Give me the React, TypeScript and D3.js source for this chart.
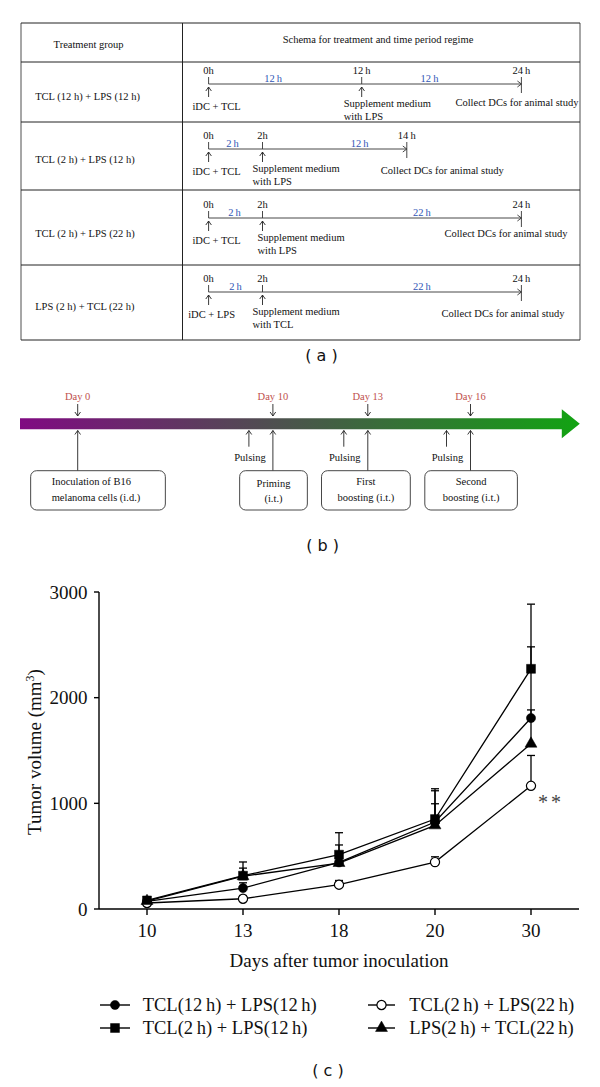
import React from "react";
import * as d3 from "d3";

// ---------- Panel (a) data ----------
const groupLabels = [
  "TCL (12 h) + LPS (12 h)",
  "TCL (2 h) + LPS (12 h)",
  "TCL (2 h) + LPS (22 h)",
  "LPS (2 h) + TCL (22 h)",
];
const rowTimes = [
  [0, 12, 24],
  [0, 2, 14],
  [0, 2, 24],
  [0, 2, 24],
];
const rowStartLabels = ["iDC + TCL", "iDC + TCL", "iDC + TCL", "iDC + LPS"];
const rowSupplementLabels = ["with LPS", "with LPS", "with LPS", "with TCL"];
const supplementLabel = "Supplement medium";
const collectLabel = "Collect DCs for animal study";
const headerLabels = ["Treatment group", "Schema for treatment and time period regime"];

// ---------- Panel (b) data ----------
const timelineDays = [0, 10, 13, 16];
const pulsingLabel = "Pulsing";
const boxLines = [
  ["Inoculation of B16", "melanoma cells (i.d.)"],
  ["Priming", "(i.t.)"],
  ["First", "boosting (i.t.)"],
  ["Second", "boosting (i.t.)"],
];

// ---------- Panel (c) data ----------
const days = ["10", "13", "18", "20", "30"];
const yTicks = [0, 1000, 2000, 3000];
const tcl12lps12 = [72, 198, 441, 823, 1807];
const tcl12lps12Err = [20, 50, 165, 296, 674];
const tcl2lps12 = [81, 315, 514, 851, 2273];
const tcl2lps12Err = [25, 130, 208, 287, 612];
const tcl2lps22 = [57, 97, 230, 444, 1166];
const tcl2lps22Err = [15, 30, 40, 50, 287];
const lps2tcl22 = [75, 310, 435, 791, 1564];
const lps2tcl22Err = [20, 77, 80, 205, 320];
const seriesNames = [
  "TCL(12\u2009h) + LPS(12\u2009h)",
  "TCL(2\u2009h) + LPS(12\u2009h)",
  "TCL(2\u2009h) + LPS(22\u2009h)",
  "LPS(2\u2009h) + TCL(22\u2009h)",
];

// ---------- Layout ----------
const SERIF = "'Liberation Serif', 'Times New Roman', serif";
const SANS = "'DejaVu Sans', sans-serif";
const tblLeft = 21, tblRight = 580, tblDivider = 182.5;
const tblLines = [23, 62, 122, 190, 265, 340];
const lineYs = [84, 149, 218, 292];
const labelYs = [96, 159, 233, 306];
const durLabelDx = [[-12, -12], [-3, 25], [-1, 30], [0, 30]];
const supplementDx = [-18, -10, -5, -10];
const startDx = [8, 8, 8, 3];
const collectDx = [-66, -26, -77, -80];
const collectDy = [18, 21, 15, 21];
const blue = "#2f55b5";
const red = "#c0504d";

const schemaX = d3.scaleLinear().domain([0, 2, 12, 14, 24]).range([208.6, 262.5, 361.7, 406.8, 521.4]);
const dayX = d3.scaleLinear().domain([0, 10, 13, 16]).range([77.7, 272.9, 367.8, 470.5]);
const boxWidths = [134.7, 67.7, 88.8, 92.6];
const boxCenterDx = [20.3, 0.6, -1.9, 0.6];

const x = d3.scalePoint<string>().domain(days).range([99, 579]).padding(0.5);
const y = d3.scaleLinear().domain([0, 3000]).range([909, 592]);

type Marker = "circle" | "square" | "open" | "triangle";
const seriesDefs: { name: string; values: number[]; errs: number[]; marker: Marker }[] = [
  { name: seriesNames[0], values: tcl12lps12, errs: tcl12lps12Err, marker: "circle" },
  { name: seriesNames[1], values: tcl2lps12, errs: tcl2lps12Err, marker: "square" },
  { name: seriesNames[2], values: tcl2lps22, errs: tcl2lps22Err, marker: "open" },
  { name: seriesNames[3], values: lps2tcl22, errs: lps2tcl22Err, marker: "triangle" },
];

function markerPath(m: Marker) {
  if (m === "square") return d3.symbol().type(d3.symbolSquare).size(80)()!;
  if (m === "triangle") return d3.symbol().type(d3.symbolTriangle).size(62)()!;
  return d3.symbol().type(d3.symbolCircle).size(66)()!;
}

function MarkerShape({ m, cx, cy }: { m: Marker; cx: number; cy: number }) {
  return (
    <path
      d={markerPath(m)}
      transform={`translate(${cx},${cy})`}
      fill={m === "open" ? "#fff" : "#000"}
      stroke="#000"
      strokeWidth={m === "open" ? 1.2 : 0.5}
    />
  );
}

function UpArrow({ x0, tip, tail }: { x0: number; tip: number; tail: number }) {
  return (
    <g stroke="#222" strokeWidth={0.9} fill="none">
      <line x1={x0} x2={x0} y1={tail} y2={tip} />
      <path d={`M${x0 - 2.8},${tip + 4} L${x0},${tip} L${x0 + 2.8},${tip + 4}`} />
    </g>
  );
}
function DownArrow({ x0, tip, tail }: { x0: number; tip: number; tail: number }) {
  return (
    <g stroke="#222" strokeWidth={0.9} fill="none">
      <line x1={x0} x2={x0} y1={tail} y2={tip} />
      <path d={`M${x0 - 2.8},${tip - 4} L${x0},${tip} L${x0 + 2.8},${tip - 4}`} />
    </g>
  );
}

function PanelA() {
  return (
    <g fontFamily={SERIF} fontSize={10.5} fill="#111">
      {tblLines.map((ly, i) => (
        <line key={i} x1={tblLeft} x2={tblRight} y1={ly} y2={ly} stroke="#222" strokeWidth={1} />
      ))}
      <line x1={tblLeft} x2={tblLeft} y1={tblLines[0]} y2={tblLines[5]} stroke="#222" strokeWidth={0.8} />
      <line x1={tblRight} x2={tblRight} y1={tblLines[0]} y2={tblLines[5]} stroke="#222" strokeWidth={0.8} />
      <line x1={tblDivider} x2={tblDivider} y1={tblLines[0]} y2={tblLines[5]} stroke="#222" strokeWidth={1} />
      <text x={53.6} y={48}>{headerLabels[0]}</text>
      <text x={378} y={43} textAnchor="middle">{headerLabels[1]}</text>
      {groupLabels.map((g, r) => {
        const ly = lineYs[r];
        const times = rowTimes[r];
        const xs = times.map((t) => schemaX(t));
        const xEnd = xs[2];
        return (
          <g key={r}>
            <text x={35.2} y={labelYs[r] + 3.5}>{g}</text>
            <line x1={xs[0]} x2={xEnd} y1={ly} y2={ly} stroke="#333" strokeWidth={0.9} />
            <path d={`M${xEnd - 4},${ly - 3} L${xEnd},${ly} L${xEnd - 4},${ly + 3}`} stroke="#333" strokeWidth={0.9} fill="none" />
            {xs.map((tx, k) => (
              <g key={k}>
                <line x1={tx} x2={tx} y1={ly - 7} y2={k === 2 ? ly + 9 : ly} stroke="#333" strokeWidth={0.9} />
                {k < 2 && <UpArrow x0={tx} tip={ly + 3} tail={ly + 13} />}
                <text x={tx} y={ly - 10.5} textAnchor="middle">
                  {times[k] === 0 || times[k] === 2 ? `${times[k]}h` : `${times[k]}\u2009h`}
                </text>
              </g>
            ))}
            {[0, 1].map((k) => {
              const dur = times[k + 1] - times[k];
              const mid = (xs[k] + xs[k + 1]) / 2 + durLabelDx[r][k];
              return (
                <text key={k} x={mid} y={ly - 2.5} textAnchor="middle" fill={blue}>
                  {`${dur}\u2009h`}
                </text>
              );
            })}
            <text x={xs[0] + startDx[r]} y={ly + 25.5} textAnchor="middle">{rowStartLabels[r]}</text>
            <text x={xs[1] + supplementDx[r]} y={ly + 22.5}>{supplementLabel}</text>
            <text x={xs[1] + supplementDx[r]} y={ly + 36}>{rowSupplementLabels[r]}</text>
            <text x={xEnd + collectDx[r]} y={ly + collectDy[r] + 3.5}>{collectLabel}</text>
          </g>
        );
      })}
      <text x={321.5} y={361} textAnchor="middle" fontFamily={SANS} fontSize={16} fill="#111">( a )</text>
    </g>
  );
}

function PanelB() {
  const barTop = 418.3, barBot = 429.3;
  const barL = 20, headBase = 561.8, tip = 579.8;
  const barMid = (barTop + barBot) / 2;
  const path = `M${barL},${barTop} L${headBase},${barTop} L${headBase},409.3 L${tip},${barMid} L${headBase},438.3 L${headBase},${barBot} L${barL},${barBot} Z`;
  return (
    <g fontFamily={SERIF} fontSize={10.5}>
      <defs>
        <linearGradient id="tlgrad" x1={barL} x2={tip} y1={0} y2={0} gradientUnits="userSpaceOnUse">
          <stop offset="0" stopColor="#800a82" />
          <stop offset="1" stopColor="#12a312" />
        </linearGradient>
      </defs>
      <path d={path} fill="url(#tlgrad)" />
      {timelineDays.map((d, i) => {
        const dx = dayX(d);
        const cx = dx + boxCenterDx[i];
        const w = boxWidths[i];
        return (
          <g key={i}>
            <text x={dx} y={399.5} textAnchor="middle" fill={red}>{`Day ${d}`}</text>
            <DownArrow x0={dx} tip={416} tail={404} />
            <UpArrow x0={dx} tip={430.5} tail={470.7} />
            {i > 0 && (
              <g>
                <UpArrow x0={dx - 24} tip={430.5} tail={446.7} />
                <text x={dx - 23} y={461} textAnchor="middle" fill="#111">{pulsingLabel}</text>
              </g>
            )}
            <rect x={cx - w / 2} y={470.7} width={w} height={39.3} rx={6} ry={6} fill="#fff" stroke="#333" strokeWidth={0.9} />
            {i === 0 ? (
              <g fill="#111">
                <text x={cx - w / 2 + 21} y={485}>{boxLines[i][0]}</text>
                <text x={cx - w / 2 + 21} y={501}>{boxLines[i][1]}</text>
              </g>
            ) : (
              <g fill="#111" textAnchor="middle">
                <text x={cx} y={i === 1 ? 487 : 485}>{boxLines[i][0]}</text>
                <text x={cx} y={i === 1 ? 502 : 501}>{boxLines[i][1]}</text>
              </g>
            )}
          </g>
        );
      })}
      <text x={322.6} y={551} textAnchor="middle" fontFamily={SANS} fontSize={16} fill="#111">( b )</text>
    </g>
  );
}

function PanelC() {
  const line = d3
    .line<number>()
    .x((_, i) => x(days[i])!)
    .y((d) => y(d));
  const [y0, y1] = y.range();
  const [xl, xr] = [99, 579];
  return (
    <g fontFamily={SERIF} fill="#111">
      <line x1={xl} x2={xl} y1={y1} y2={y0} stroke="#000" strokeWidth={1.4} />
      <line x1={xl} x2={xr} y1={y0} y2={y0} stroke="#000" strokeWidth={1.4} />
      {yTicks.map((t) => (
        <g key={t}>
          <line x1={xl - 5} x2={xl} y1={y(t)} y2={y(t)} stroke="#000" strokeWidth={1.4} />
          <text x={87.5} y={y(t) + 6.5} textAnchor="end" fontSize={19}>{t}</text>
        </g>
      ))}
      {days.map((d) => (
        <g key={d}>
          <line x1={x(d)!} x2={x(d)!} y1={y0} y2={y0 + 6} stroke="#000" strokeWidth={1.4} />
          <text x={x(d)!} y={936.5} textAnchor="middle" fontSize={19}>{d}</text>
        </g>
      ))}
      <text x={339} y={967} textAnchor="middle" fontSize={19}>Days after tumor inoculation</text>
      <text transform="translate(41,752) rotate(-90)" textAnchor="middle" fontSize={19}>
        Tumor volume (mm<tspan dy={-7} fontSize={12}>3</tspan><tspan dy={7}>)</tspan>
      </text>
      {seriesDefs.map((s, si) => (
        <g key={si} stroke="#000" strokeWidth={1.3}>
          {s.values.map((v, i) => {
            const px = x(days[i])!;
            const top = y(v + s.errs[i]);
            return (
              <g key={i}>
                <line x1={px} x2={px} y1={y(v)} y2={top} />
                <line x1={px - 4} x2={px + 4} y1={top} y2={top} />
              </g>
            );
          })}
        </g>
      ))}
      {seriesDefs.map((s, si) => (
        <path key={si} d={line(s.values)!} fill="none" stroke="#000" strokeWidth={1.3} />
      ))}
      {seriesDefs.map((s, si) => (
        <g key={si}>
          {s.values.map((v, i) => (
            <MarkerShape key={i} m={s.marker} cx={x(days[i])!} cy={y(v)} />
          ))}
        </g>
      ))}
      <text x={538} y={809} fontSize={20} fill="#444" letterSpacing={3}>**</text>
      {seriesDefs.map((s, si) => {
        const col = si < 2 ? 0 : 1;
        const row = si % 2;
        const lx0 = col === 0 ? 100 : 368;
        const lx1 = col === 0 ? 130 : 395;
        const tx = col === 0 ? 142.7 : 409.3;
        const ly = row === 0 ? 1005 : 1028;
        return (
          <g key={si}>
            <line x1={lx0} x2={lx1} y1={ly} y2={ly} stroke="#000" strokeWidth={1.4} />
            <MarkerShape m={s.marker} cx={(lx0 + lx1) / 2} cy={ly} />
            <text x={tx} y={ly + 6} fontSize={18.5}>{s.name}</text>
          </g>
        );
      })}
      <text x={328} y={1076} textAnchor="middle" fontFamily={SANS} fontSize={16}>( c )</text>
    </g>
  );
}

export default function App() {
  return (
    <svg
      width={600}
      height={1087}
      viewBox="0 0 600 1087"
      style={{ position: "absolute", left: 0, top: 0, background: "#fff" }}
    >
      <rect x={0} y={0} width={600} height={1087} fill="#fff" />
      <PanelA />
      <PanelB />
      <PanelC />
    </svg>
  );
}
